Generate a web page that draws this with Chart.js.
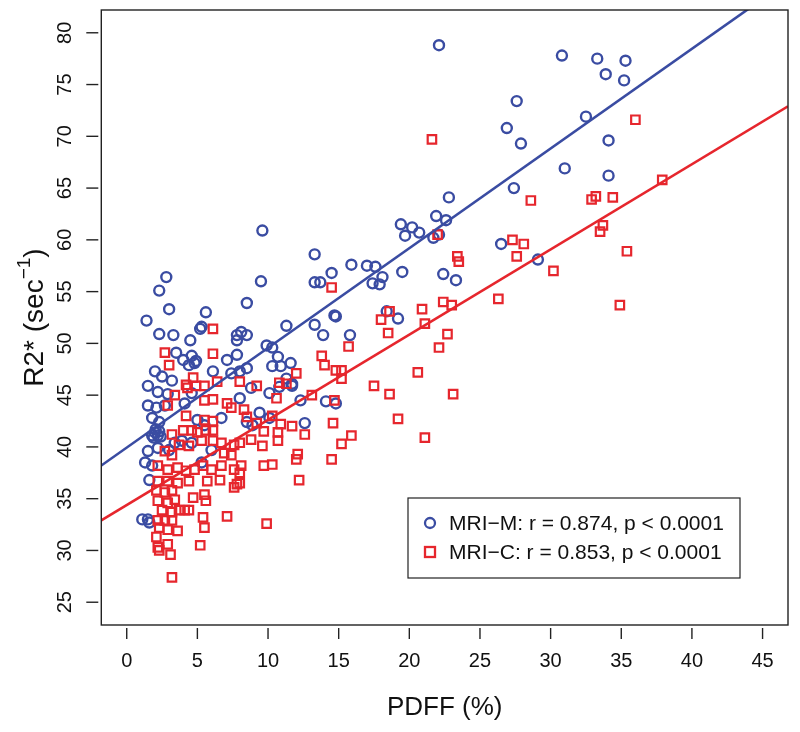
<!DOCTYPE html>
<html>
<head>
<meta charset="utf-8">
<script src="https://cdn.jsdelivr.net/npm/chart.js@4.4.0/dist/chart.umd.min.js"></script>
<style>
  html, body { margin: 0; padding: 0; background: #fff; }
</style>
</head>
<body>
<canvas id="chart" width="800" height="732"></canvas>
<script>
// axis ticks
const xTicks = [0, 5, 10, 15, 20, 25, 30, 35, 40, 45];
const yTicks = [25, 30, 35, 40, 45, 50, 55, 60, 65, 70, 75, 80];

// MRI-M (blue circles): [PDFF %, R2*]
const mriM = [
  [22.1,78.8],[30.8,77.8],[33.3,77.5],[35.3,77.3],[33.9,76.0],[35.2,75.4],[27.6,73.4],[26.9,70.8],
  [32.5,71.9],[34.1,69.6],[27.9,69.3],[31.0,66.9],[34.1,66.2],[27.4,65.0],[22.8,64.1],[21.9,62.3],
  [22.6,61.9],[19.4,61.5],[20.2,61.2],[20.7,60.7],[19.7,60.4],[21.7,60.2],[22.1,60.5],[26.5,59.6],
  [29.1,58.1],[15.9,57.6],[17.0,57.5],[17.6,57.4],[18.1,56.4],[17.4,55.8],[17.9,55.7],[19.5,56.9],
  [22.4,56.7],[23.3,56.1],[18.4,53.1],[19.2,52.4],
  [9.6,60.9],[13.3,58.6],[2.8,56.4],[2.3,55.1],[3.0,53.3],[1.4,52.2],[5.6,53.0],[8.5,53.9],
  [9.5,56.0],[13.3,55.9],[13.7,55.9],[14.5,56.8],[14.7,52.7],[14.8,52.6],[11.3,51.7],[13.3,51.8],
  [5.2,51.4],[5.3,51.6],[2.3,50.9],[3.3,50.8],[4.5,50.3],[3.5,49.1],[4.6,48.8],[4.8,48.1],
  [4.4,47.9],[4.9,48.3],[4.0,48.4],[7.8,50.8],[8.1,51.1],[7.8,50.3],[7.1,48.4],[7.8,48.9],
  [2.0,47.3],[2.5,46.8],[3.2,46.4],[6.1,47.3],[7.4,47.1],[8.0,47.3],[1.5,45.9],
  [13.9,50.8],[15.8,50.8],[8.5,50.8],[9.9,49.8],[10.3,49.6],[10.7,48.7],[10.3,47.8],[10.9,47.8],
  [11.6,48.1],[8.5,47.6],[11.3,46.6],[11.7,46.1],
  [8.8,45.7],[10.1,45.2],[10.8,45.8],[11.7,45.9],[12.3,44.5],[14.1,44.4],[14.8,44.2],[9.4,43.3],
  [10.1,42.8],[12.6,42.3],[8.0,44.7],[8.5,42.4],[8.9,42.1],
  [2.2,45.3],[2.9,45.1],[1.5,44.0],[2.1,43.8],[2.7,44.0],[1.8,42.8],[2.3,42.4],[2.0,41.4],
  [2.2,41.1],[1.8,41.1],[1.5,39.6],[2.2,39.9],[1.3,38.5],[1.8,38.2],[1.6,36.8],[4.6,45.2],
  [4.1,44.2],[5.0,42.6],[5.5,42.1],[6.7,42.8],[3.4,40.4],[3.9,40.6],[3.0,39.7],[4.6,40.4],
  [6.0,39.7],[5.3,38.5],[2.05,41.7],[2.3,41.5],[1.9,40.9],[2.4,41.0],
  [1.1,33.0],[1.5,33.0],[1.6,32.7]
];

// MRI-C (red squares): [PDFF %, R2*]
const mriC = [
  [21.6,69.7],[36.0,71.6],[37.9,65.8],[28.6,63.8],[32.9,63.9],[33.2,64.2],[34.4,64.1],[33.7,61.4],
  [33.5,60.8],[27.3,60.0],[28.1,59.6],[27.6,58.4],[30.2,57.0],[35.4,58.9],[23.4,58.4],[23.5,57.9],
  [22.0,60.5],[26.3,54.3],[34.9,53.7],[20.9,53.3],[22.4,54.0],[23.0,53.7],[18.6,53.1],[18.0,52.3],
  [21.1,51.9],[18.5,51.0],[22.7,50.9],[22.1,49.6],[15.7,49.7],[15.2,47.4],[15.2,46.6],[20.6,47.2],
  [17.5,45.9],[18.6,45.1],[23.1,45.1],[19.2,42.7],[15.9,41.1],[15.2,40.3],[21.1,40.9],[14.5,55.4],
  [13.8,48.8],[14.0,47.9],[14.8,47.4],[12.0,47.1],[9.2,45.9],[10.8,46.2],[11.3,46.1],
  [10.6,44.7],[13.1,45.0],[14.7,44.5],[8.3,43.6],[8.5,42.9],[10.3,43.0],[10.9,42.2],[11.7,42.0],
  [9.2,42.3],[9.7,41.5],[12.6,41.2],[10.7,41.4],[10.7,40.6],[14.6,42.3],[8.8,40.7],[9.6,40.1],
  [12.1,39.3],[12.0,38.8],[14.5,38.8],[8.1,38.2],[8.0,37.5],[9.7,38.2],[10.3,38.3],[8.0,36.5],
  [12.2,36.8],[9.9,32.6],
  [6.1,51.4],[2.7,49.1],[3.0,47.9],[6.1,49.0],[4.7,46.7],[4.2,46.0],[6.4,46.3],[8.0,46.3],
  [3.4,45.0],[2.9,44.0],[4.3,45.7],[4.9,45.9],[5.5,45.9],[5.5,44.5],[6.1,44.6],[4.2,43.0],
  [5.5,42.6],[6.1,42.5],[4.0,41.6],[4.6,41.6],[5.0,41.4],[5.6,41.6],[6.1,41.6],[3.2,41.2],
  [3.7,40.2],[4.4,40.1],[5.3,40.6],[6.1,40.6],[2.7,39.6],[3.2,39.2],[6.7,40.4],[7.6,40.2],
  [8.0,40.4],[6.9,39.4],[7.4,39.2],[2.2,38.2],[2.9,37.8],[3.6,38.0],[4.2,37.7],[4.8,37.8],
  [2.2,36.7],[2.9,36.7],[3.6,36.5],[5.4,38.2],[6.0,37.8],[6.7,38.2],[5.7,36.7],[6.6,36.8],
  [7.6,37.8],[7.8,36.4],[4.4,36.7],[7.1,44.2],[7.4,43.8],
  [2.1,35.8],[2.7,35.6],[3.2,35.8],[2.2,34.8],[2.9,34.6],[3.4,34.9],[4.7,35.1],[5.5,35.4],
  [5.6,34.8],[4.1,33.9],[4.4,33.9],[3.7,33.9],[2.5,33.9],[3.2,33.7],[2.2,32.9],[2.7,32.9],
  [3.2,32.9],[2.3,32.2],[2.9,32.0],[3.6,31.9],[5.4,33.2],[5.5,32.2],[7.1,33.3],[2.1,31.3],
  [2.9,30.6],[2.2,30.3],[2.3,30.0],[5.2,30.5],[3.1,29.6],[3.2,27.4],[7.6,36.1]
];

// regression lines, end points at the plot edges
const fitX = [-1.8, 46.8];
const fitM = [38.2, 85.0];
const fitC = [32.9, 72.9];

const legendLabels = ['MRI\u2212M: r = 0.874, p < 0.0001', 'MRI\u2212C: r = 0.853, p < 0.0001'];
const xTitle = 'PDFF (%)';

const BLUE = '#3a4ca2';
const RED = '#e6262d';
const FONT = '"Liberation Sans", Arial, Helvetica, sans-serif';

const toPts = arr => arr.map(p => ({ x: p[0], y: p[1] }));

// R-style box, ticks, labels and legend
const rAxes = {
  id: 'rAxes',
  afterDraw(chart) {
    const { ctx, chartArea: a, scales: { x, y } } = chart;
    ctx.save();
    ctx.strokeStyle = '#222';
    ctx.lineWidth = 1.4;
    ctx.strokeRect(a.left, a.top, a.right - a.left, a.bottom - a.top);

    ctx.fillStyle = '#111';
    ctx.font = '20px ' + FONT;
    ctx.textAlign = 'center';
    ctx.textBaseline = 'middle';
    xTicks.forEach(v => {
      const px = x.getPixelForValue(v);
      ctx.beginPath();
      ctx.moveTo(px, a.bottom + 3);
      ctx.lineTo(px, a.bottom + 14);
      ctx.stroke();
      ctx.fillText(String(v), px, a.bottom + 36);
    });
    yTicks.forEach(v => {
      const py = y.getPixelForValue(v);
      ctx.beginPath();
      ctx.moveTo(a.left - 3, py);
      ctx.lineTo(a.left - 15, py);
      ctx.stroke();
      ctx.save();
      ctx.translate(a.left - 36, py);
      ctx.rotate(-Math.PI / 2);
      ctx.fillText(String(v), 0, 0);
      ctx.restore();
    });

    // axis titles
    ctx.font = '26px ' + FONT;
    ctx.fillText(xTitle, (a.left + a.right) / 2, a.bottom + 83);

    ctx.save();
    ctx.translate(a.left - 66, (a.top + a.bottom) / 2);
    ctx.rotate(-Math.PI / 2);
    const big = '28px ' + FONT, small = '19px ' + FONT;
    ctx.font = big;
    const w1 = ctx.measureText('R2* (sec').width;
    const w3 = ctx.measureText(')').width;
    ctx.font = small;
    const w2 = ctx.measureText('\u22121').width;
    let cx = -(w1 + w2 + w3) / 2;
    ctx.textAlign = 'left';
    ctx.font = big;
    ctx.fillText('R2* (sec', cx, 0);
    cx += w1;
    ctx.font = small;
    ctx.fillText('\u22121', cx, -11);
    cx += w2;
    ctx.font = big;
    ctx.fillText(')', cx, 0);
    ctx.restore();

    // legend
    ctx.lineWidth = 1.2;
    ctx.strokeStyle = '#222';
    ctx.strokeRect(408, 498, 332, 80);
    ctx.font = '21px ' + FONT;
    ctx.textAlign = 'left';
    ctx.fillStyle = '#111';
    ctx.lineWidth = 2.3;
    ctx.strokeStyle = BLUE;
    ctx.beginPath();
    ctx.arc(430, 523, 5, 0, Math.PI * 2);
    ctx.stroke();
    ctx.fillText(legendLabels[0], 449, 524);
    ctx.strokeStyle = RED;
    ctx.strokeRect(425, 547, 10, 10);
    ctx.fillText(legendLabels[1], 449, 553);
    ctx.restore();
  }
};

new Chart(document.getElementById('chart'), {
  type: 'scatter',
  data: {
    datasets: [
      {
        label: 'fit M', type: 'line', showLine: true, data: toPts(fitX.map((v, i) => [v, fitM[i]])),
        borderColor: BLUE, borderWidth: 2.6, pointRadius: 0, fill: false
      },
      {
        label: 'fit C', type: 'line', showLine: true, data: toPts(fitX.map((v, i) => [v, fitC[i]])),
        borderColor: RED, borderWidth: 2.6, pointRadius: 0, fill: false
      },
      {
        label: 'MRI-C', data: toPts(mriC), pointStyle: 'rect', pointRadius: 6,
        borderColor: RED, backgroundColor: 'rgba(0,0,0,0)', borderWidth: 2.2
      },
      {
        label: 'MRI-M', data: toPts(mriM), pointStyle: 'circle', pointRadius: 5,
        borderColor: BLUE, backgroundColor: 'rgba(0,0,0,0)', borderWidth: 2.4
      }
    ]
  },
  options: {
    responsive: false,
    devicePixelRatio: 1,
    animation: false,
    layout: { padding: { left: 101.3, right: 12, top: 10, bottom: 107 } },
    scales: {
      x: { type: 'linear', min: -1.8, max: 46.8, display: false },
      y: { type: 'linear', min: 22.8, max: 82.2, display: false }
    },
    plugins: { legend: { display: false }, tooltip: { enabled: false } }
  },
  plugins: [rAxes]
});
</script>
</body>
</html>
